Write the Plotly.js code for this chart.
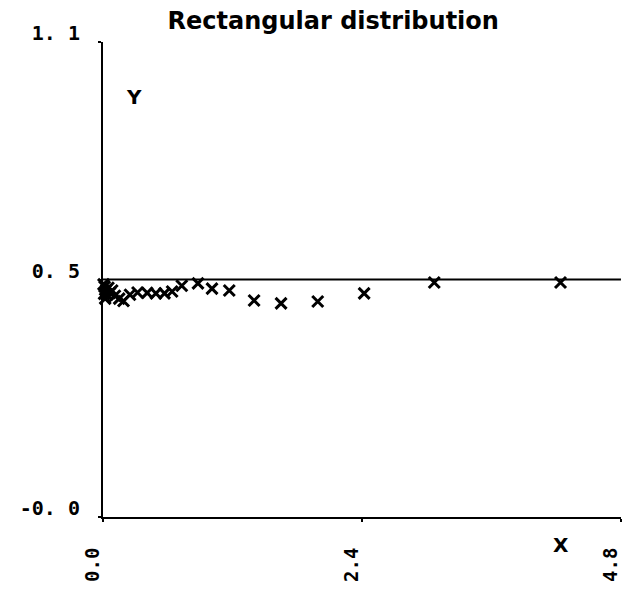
<!DOCTYPE html>
<html>
<head>
<meta charset="utf-8">
<script src="https://cdn.plot.ly/plotly-3.0.1.min.js"></script>
<style>
  html, body { margin: 0; padding: 0; background: #fff; }
  #chart { width: 624px; height: 593px; }
</style>
</head>
<body>
<div id="chart"></div>
<script>
// Sample means plotted against x, with the expected value 0.5 as a reference line
const xVals = [0.005, 0.01, 0.015, 0.02, 0.03, 0.04, 0.05, 0.065, 0.085, 0.11,
               0.15, 0.19, 0.25, 0.32, 0.41, 0.49, 0.57, 0.64, 0.73, 0.88,
               1.01, 1.17, 1.40, 1.65, 1.99, 2.42, 3.07, 4.24];
const yVals = [0.490, 0.470, 0.485, 0.460, 0.478, 0.468, 0.483, 0.472, 0.477, 0.466,
               0.460, 0.455, 0.468, 0.473, 0.472, 0.471, 0.471, 0.475, 0.487, 0.492,
               0.481, 0.477, 0.456, 0.450, 0.454, 0.471, 0.494, 0.494];

// Expected value line
const refX = [0, 4.8];
const refY = [0.5, 0.5];

// Axis ticks
const xTickVals = [0, 2.4, 4.8];
const xTickText = ["0.0", "2.4", "4.8"];
const yTickVals = [0, 0.5, 1.0];
const yTickText = ["-0. 0", "0. 5", "1. 1"];

const tickFont = { family: "DejaVu Sans Mono", size: 20, color: "#000", weight: "bold" };
const xTickFont = { family: "DejaVu Sans Mono", size: 19, color: "#000", weight: "bold" };

const traces = [
  {
    x: refX, y: refY, mode: "lines", type: "scatter",
    line: { color: "#000", width: 2 }, hoverinfo: "skip", cliponaxis: false
  },
  {
    x: xVals, y: yVals, mode: "markers", type: "scatter",
    marker: { symbol: "x-thin", size: 11, color: "#000", line: { color: "#000", width: 3 } },
    cliponaxis: false
  }
];

const layout = {
  width: 624, height: 593,
  margin: { l: 103, r: 3, t: 42, b: 76 },
  paper_bgcolor: "#fff", plot_bgcolor: "#fff",
  showlegend: false,
  title: {
    text: "Rectangular distribution",
    font: { family: "DejaVu Sans", size: 24, color: "#000", weight: "bold" },
    x: 0.534, xref: "container", xanchor: "center",
    y: 0.966, yref: "container", yanchor: "middle"
  },
  xaxis: {
    range: [-0.0001, 4.8005], showgrid: false, zeroline: false,
    showline: true, linecolor: "#000", linewidth: 2,
    tickmode: "array", tickvals: xTickVals, ticktext: xTickText,
    ticks: "outside", ticklen: 3, tickcolor: "#000", tickwidth: 2,
    tickangle: -90, tickfont: xTickFont, ticklabelstandoff: 18, ticklabelshift: -10,
    ticklabeloverflow: "allow"
  },
  yaxis: {
    range: [0, 1.0005], showgrid: false, zeroline: false,
    showline: true, linecolor: "#000", linewidth: 2,
    tickmode: "array", tickvals: yTickVals, ticktext: yTickText,
    ticks: "outside", ticklen: 3, tickcolor: "#000", tickwidth: 2,
    tickfont: tickFont, ticklabelstandoff: 14, ticklabelshift: -9,
    ticklabeloverflow: "allow"
  },
  annotations: [
    { text: "Y", xref: "paper", yref: "paper", x: 0.041, y: 0.913,
      showarrow: false, font: { family: "DejaVu Sans", size: 20, color: "#000", weight: "bold" } },
    { text: "X", xref: "paper", yref: "paper", x: 0.904, y: -0.088,
      showarrow: false, font: { family: "DejaVu Sans", size: 20, color: "#000", weight: "bold" } }
  ]
};

Plotly.newPlot("chart", traces, layout, { displayModeBar: false, staticPlot: true });
</script>
</body>
</html>
